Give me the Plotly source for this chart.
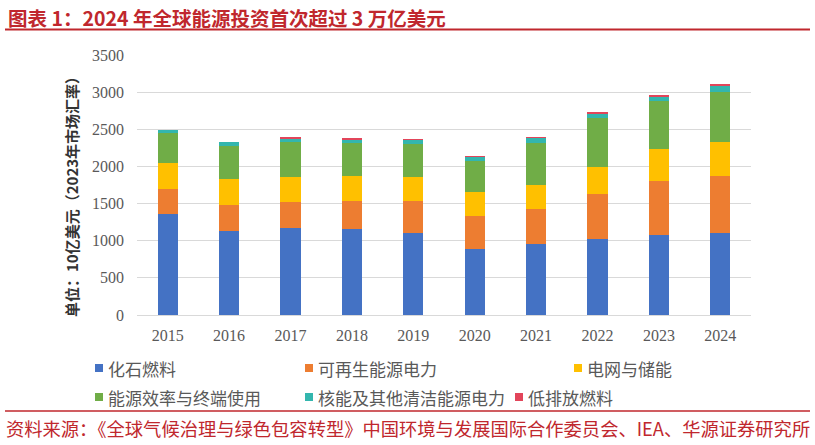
import plotly.graph_objects as go

years = ['2015', '2016', '2017', '2018', '2019', '2020', '2021', '2022', '2023', '2024']
series_names = ['化石燃料', '可再生能源电力', '电网与储能', '能源效率与终端使用', '核能及其他清洁能源电力', '低排放燃料']
fossil = [1355, 1131, 1167, 1158, 1108, 884, 956, 1023, 1081, 1104]
renewable = [341, 350, 354, 376, 426, 445, 466, 602, 727, 767]
grid = [346, 349, 341, 341, 324, 322, 328, 371, 426, 462]
efficiency = [403, 449, 463, 445, 448, 426, 565, 651, 647, 669]
nuclear = [45, 54, 53, 45, 55, 54, 72, 72, 67, 81]
low_emission = [0, 0, 5, 10, 2, 2, 4, 18, 18, 26]
colors = ['#4472C4', '#ED7D31', '#FFC000', '#70AD47', '#33B6AE', '#E2455A']
y_ticks = [0, 500, 1000, 1500, 2000, 2500, 3000, 3500]

title_text = '图表 1：2024 年全球能源投资首次超过 3 万亿美元'
y_title = '单位：10亿美元（2023年市场汇率）'
source_text = '资料来源：《全球气候治理与绿色包容转型》中国环境与发展国际合作委员会、IEA、华源证券研究所'

W, H = 815, 445
L, R, T, B = 137, 64, 55, 130
PW, PH = W - L - R, H - T - B


def px(x):
    return (x - L) / PW


def py(y):
    return (H - B - y) / PH


RED = '#C0272D'

fig = go.Figure()
for name, vals, col in zip(series_names, [fossil, renewable, grid, efficiency, nuclear, low_emission], colors):
    fig.add_trace(go.Bar(x=years, y=vals, name=name, marker=dict(color=col, line=dict(width=0)),
                         showlegend=False))

shapes = [
    dict(type='line', xref='paper', yref='paper', x0=px(5), x1=px(810), y0=py(29.5), y1=py(29.5),
         line=dict(color=RED, width=2)),
    dict(type='line', xref='paper', yref='paper', x0=px(5), x1=px(810), y0=py(411), y1=py(411),
         line=dict(color=RED, width=1.5)),
]
annotations = [
    dict(text=title_text, xref='paper', yref='paper', x=px(6), y=py(17), xanchor='left', yanchor='middle',
         showarrow=False, font=dict(family='Noto Sans CJK SC', size=19.5, color=RED, weight='bold')),
    dict(text=source_text, xref='paper', yref='paper', x=px(4), y=py(428), xanchor='left', yanchor='middle',
         showarrow=False, font=dict(family='Noto Sans CJK SC', size=18.3, color=RED)),
    dict(text=y_title, xref='paper', yref='paper', x=px(71), y=py(193), xanchor='center', yanchor='middle',
         textangle=-90, showarrow=False, font=dict(family='Noto Sans CJK SC', size=15, color='#333333', weight='bold')),
]

legend_pos = [(99, 368), (309, 368), (578, 368), (99, 397), (309, 397), (519, 397)]
for name, col, (lx, ly) in zip(series_names, colors, legend_pos):
    shapes.append(dict(type='rect', xref='paper', yref='paper', x0=px(lx - 4), x1=px(lx + 4),
                       y0=py(ly - 4), y1=py(ly + 4), fillcolor=col, line=dict(width=0)))
    annotations.append(dict(text=name, xref='paper', yref='paper', x=px(lx + 7), y=py(ly), xanchor='left',
                            yanchor='middle', showarrow=False,
                            font=dict(family='Noto Sans CJK SC', size=17, color='#595959')))

fig.update_layout(
    width=W, height=H,
    margin=dict(l=L, r=R, t=T, b=B, pad=0),
    barmode='stack', bargap=0.674,
    plot_bgcolor='white', paper_bgcolor='white',
    shapes=shapes, annotations=annotations,
    xaxis=dict(type='category', showgrid=False, showline=True, linecolor='#D9D9D9', linewidth=1,
               ticks='', tickfont=dict(family='Liberation Serif', size=16, color='#595959'),
               ticklabelstandoff=6),
    yaxis=dict(range=[0, 3500], tickvals=y_ticks, showgrid=True, gridcolor='#D9D9D9', gridwidth=1,
               zeroline=False, showline=False, ticks='',
               tickfont=dict(family='Liberation Serif', size=16, color='#595959'),
               ticklabelstandoff=12),
)

fig.write_html('out.html', config={'displayModeBar': False},
               post_script="document.body.style.margin='0';document.body.style.padding='0';")
